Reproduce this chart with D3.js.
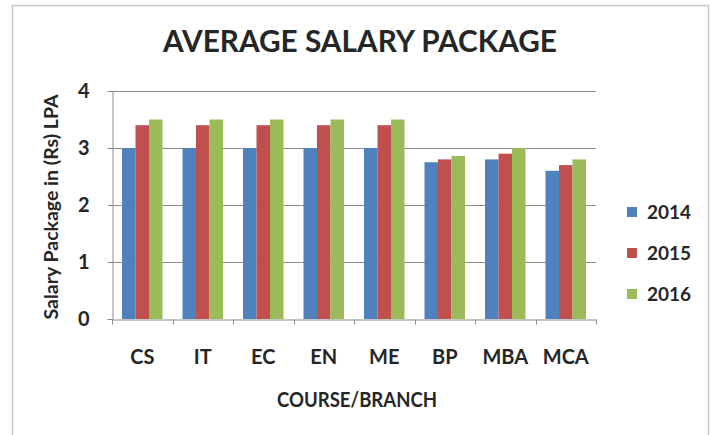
<!DOCTYPE html>
<html lang="en">
<head>
  <meta charset="utf-8" />
  <title>Average salary package</title>
  <style type="text/css">
    body { margin: 0; background: #fff; }
    text { font-family: Lato, "Open Sans", sans-serif; font-weight: 700; fill: #262626; }
  </style>
</head>
<body>
  <div id="graphic"></div>

  <script src="https://cdnjs.cloudflare.com/ajax/libs/d3/7.8.5/d3.min.js" type="text/javascript"></script>
  <script>
    var courses = ["CS", "IT", "EC", "EN", "ME", "BP", "MBA", "MCA"];
    var years = ["2014", "2015", "2016"];
    var sal2014 = [3, 3, 3, 3, 3, 2.75, 2.8, 2.6];
    var sal2015 = [3.4, 3.4, 3.4, 3.4, 3.4, 2.8, 2.9, 2.7];
    var sal2016 = [3.5, 3.5, 3.5, 3.5, 3.5, 2.86, 3.0, 2.8];
    var yTicks = [0, 1, 2, 3, 4];
    var colours = ["#4F81BD", "#C0504D", "#9BBB59"];

    var series = [sal2014, sal2015, sal2016];
    var graphic_data = courses.map(function(c, i) {
      return { course: c, values: years.map(function(y, j) { return { year: y, value: series[j][i] }; }) };
    });

    var width = 713, height = 435;
    var margin = { top: 91, right: 117, bottom: 116, left: 112 };

    var svg = d3.select('#graphic').append('svg')
      .attr('width', width)
      .attr('height', height);

    // chart frame
    svg.append('rect')
      .attr('x', 12.5).attr('y', 5.5)
      .attr('width', 696).attr('height', 440)
      .attr('fill', 'none')
      .attr('stroke', '#c8c8c8')
      .attr('stroke-width', 1.5);

    var x = d3.scaleBand()
      .domain(courses)
      .range([margin.left, width - margin.right]);

    var x1 = d3.scaleBand()
      .domain(years)
      .range([10, x.bandwidth() - 10]);

    var y = d3.scaleLinear()
      .domain([0, 4])
      .range([height - margin.bottom, margin.top]);

    var colour = d3.scaleOrdinal().domain(years).range(colours);

    // gridlines
    svg.append('g')
      .selectAll('line')
      .data(yTicks.slice(1))
      .enter().append('line')
      .attr('x1', margin.left).attr('x2', width - margin.right)
      .attr('y1', function(d) { return Math.round(y(d)) + 0.5; })
      .attr('y2', function(d) { return Math.round(y(d)) + 0.5; })
      .attr('stroke', '#8c8c8c');

    // bars
    svg.append('g')
      .selectAll('g')
      .data(graphic_data)
      .enter().append('g')
      .attr('transform', function(d) { return 'translate(' + x(d.course) + ',0)'; })
      .selectAll('rect')
      .data(function(d) { return d.values; })
      .enter().append('rect')
      .attr('x', function(d) { return x1(d.year); })
      .attr('width', x1.bandwidth())
      .attr('y', function(d) { return y(d.value); })
      .attr('height', function(d) { return y(0) - y(d.value); })
      .attr('fill', function(d) { return colour(d.year); });

    // y axis
    var yAxis = svg.append('g')
      .attr('transform', 'translate(' + (margin.left + 0.5) + ',0)')
      .call(d3.axisLeft(y).tickValues(yTicks).tickSize(5).tickPadding(18).tickFormat(d3.format('d')));
    yAxis.selectAll('path, line').attr('stroke', '#8c8c8c');
    yAxis.selectAll('text').style('font-size', '20px');

    // x axis
    var xAxis = svg.append('g')
      .attr('transform', 'translate(0,' + (Math.round(y(0)) + 0.5) + ')')
      .call(d3.axisBottom(x).tickSize(0).tickPadding(30));
    xAxis.select('path').attr('stroke', '#8c8c8c');
    xAxis.selectAll('text').style('font-size', '20px');
    xAxis.selectAll('.sep')
      .data(d3.range(courses.length + 1))
      .enter().append('line')
      .attr('class', 'sep')
      .attr('x1', function(i) { return Math.round(margin.left + i * x.step()) + 0.5; })
      .attr('x2', function(i) { return Math.round(margin.left + i * x.step()) + 0.5; })
      .attr('y1', 0).attr('y2', 5)
      .attr('stroke', '#8c8c8c');

    // titles
    svg.append('text')
      .attr('x', 360).attr('y', 52)
      .attr('text-anchor', 'middle')
      .attr('textLength', 394)
      .attr('lengthAdjust', 'spacingAndGlyphs')
      .style('font-size', '30px')
      .text('AVERAGE SALARY PACKAGE');

    svg.append('text')
      .attr('x', 357).attr('y', 407)
      .attr('text-anchor', 'middle')
      .attr('textLength', 160)
      .attr('lengthAdjust', 'spacingAndGlyphs')
      .style('font-size', '20px')
      .text('COURSE/BRANCH');

    svg.append('text')
      .attr('transform', 'translate(58,207) rotate(-90)')
      .attr('text-anchor', 'middle')
      .attr('textLength', 225)
      .attr('lengthAdjust', 'spacingAndGlyphs')
      .style('font-size', '18px')
      .text('Salary Package in (Rs) LPA');

    // legend
    var legend = svg.append('g')
      .selectAll('g')
      .data(years)
      .enter().append('g')
      .attr('transform', function(d, i) { return 'translate(627,' + (212 + i * 41) + ')'; });
    legend.append('rect')
      .attr('x', 0).attr('y', -5)
      .attr('width', 10).attr('height', 10)
      .attr('fill', function(d) { return colour(d); });
    legend.append('text')
      .attr('x', 20).attr('y', 7)
      .style('font-size', '19px')
      .text(function(d) { return d; });
  </script>
</body>
</html>
